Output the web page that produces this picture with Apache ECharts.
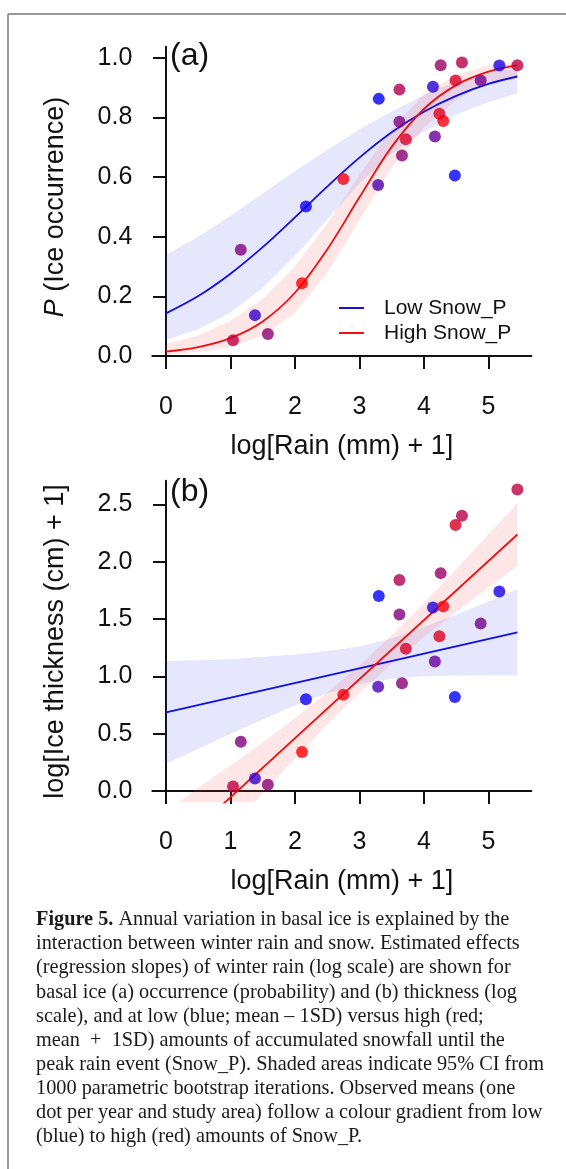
<!DOCTYPE html>
<html>
<head>
<meta charset="utf-8">
<script src="https://cdn.jsdelivr.net/npm/echarts@6/dist/echarts.min.js"></script>
<style>
html,body{margin:0;padding:0;background:#fff;}
#chart{width:566px;height:1169px;}
</style>
</head>
<body>
<div id="chart"></div>
<script>
// ---- data ----
const xTicks = [0, 1, 2, 3, 4, 5];
const yTicksA = [0, 0.2, 0.4, 0.6, 0.8, 1.0];
const yTicksB = [0, 0.5, 1.0, 1.5, 2.0, 2.5];

// observed means: log[Rain+1], P(ice), log[thickness+1], relative Snow_P (0 = low/blue, 1 = high/red)
const xRain    = [1.04, 1.16, 1.38, 1.58, 2.11, 2.17, 2.75, 3.29, 3.30, 3.62, 3.62, 3.66, 3.72, 4.14, 4.17, 4.24, 4.26, 4.30, 4.48, 4.49, 4.59, 4.88, 5.17, 5.45];
const pIce     = [0.053, 0.356, 0.137, 0.074, 0.244, 0.501, 0.593, 0.573, 0.862, 0.893, 0.785, 0.672, 0.727, 0.903, 0.736, 0.812, 0.975, 0.788, 0.605, 0.924, 0.984, 0.924, 0.974, 0.975];
const logThick = [0.04, 0.43, 0.11, 0.055, 0.34, 0.80, 0.84, 0.91, 1.70, 1.84, 1.54, 0.94, 1.24, 1.60, 1.13, 1.35, 1.90, 1.61, 0.82, 2.32, 2.40, 1.46, 1.74, 2.63];
const snowP    = [0.75, 0.5, 0.2, 0.55, 1.0, 0.05, 0.95, 0.3, 0.0, 0.7, 0.5, 0.55, 0.85, 0.15, 0.4, 0.88, 0.6, 0.97, 0.02, 0.85, 0.72, 0.45, 0.1, 0.75];

// fitted curves and 95% CI, sampled from the figure
const curveX     = [0, 0.5, 1, 1.5, 2, 2.5, 3, 3.5, 4, 4.5, 5, 5.45];
const lowSnowP   = [0.143, 0.201, 0.276, 0.365, 0.465, 0.568, 0.665, 0.750, 0.819, 0.872, 0.912, 0.937];
const lowSnowLo  = [0.054, 0.090, 0.146, 0.228, 0.335, 0.458, 0.578, 0.678, 0.753, 0.809, 0.851, 0.881];
const lowSnowHi  = [0.339, 0.400, 0.470, 0.545, 0.620, 0.690, 0.760, 0.820, 0.875, 0.920, 0.950, 0.966];
const highSnowP  = [0.015, 0.030, 0.060, 0.116, 0.212, 0.357, 0.532, 0.701, 0.828, 0.908, 0.953, 0.975];
const highSnowLo = [0.004, 0.013, 0.030, 0.068, 0.144, 0.278, 0.456, 0.631, 0.766, 0.858, 0.916, 0.935];
const highSnowHi = [0.040, 0.069, 0.117, 0.192, 0.301, 0.444, 0.607, 0.762, 0.876, 0.942, 0.974, 0.985];

const lineX        = [0, 5.45];
const lowThickFit  = [0.686, 1.384];
const highThickFit = [-0.57, 2.237];
const lowThickLo   = [0.237, 0.369, 0.498, 0.624, 0.745, 0.852, 0.934, 0.980, 1.000, 1.008, 1.010, 1.010];
const lowThickHi   = [1.133, 1.140, 1.150, 1.170, 1.190, 1.220, 1.260, 1.330, 1.430, 1.540, 1.650, 1.760];
const highThickLo  = [-0.961, -0.654, -0.332, -0.019, 0.283, 0.577, 0.855, 1.110, 1.343, 1.562, 1.774, 1.962];
const highThickHi  = [-0.179, 0.029, 0.222, 0.424, 0.637, 0.858, 1.095, 1.355, 1.637, 1.933, 2.236, 2.512];

const captionLines = [
  'Annual variation in basal ice is explained by the',
  'interaction between winter rain and snow. Estimated effects',
  '(regression slopes) of winter rain (log scale) are shown for',
  'basal ice (a) occurrence (probability) and (b) thickness (log',
  'scale), and at low (blue; mean \u2013 1SD) versus high (red;',
  'mean  +  1SD) amounts of accumulated snowfall until the',
  'peak rain event (Snow_P). Shaded areas indicate 95% CI from',
  '1000 parametric bootstrap iterations. Observed means (one',
  'dot per year and study area) follow a colour gradient from low',
  '(blue) to high (red) amounts of Snow_P.'
];

// ---- chart ----
const SANS = 'Liberation Sans, Arial, sans-serif';
const SERIF = 'Liberation Serif, Times New Roman, serif';
const BLUE = '#1010e0';
const RED = '#ee1010';
const INK = '#111';

function zip(xs, ys) { return xs.map((x, i) => [x, ys[i]]); }

function band(gi, lo, hi, fill) {
  return {
    type: 'custom', xAxisIndex: gi, yAxisIndex: gi, clip: true, silent: true, z: 1,
    data: [[0, 0]],
    renderItem: function (params, api) {
      const pts = [];
      for (let i = 0; i < curveX.length; i++) pts.push(api.coord([curveX[i], hi[i]]));
      for (let i = curveX.length - 1; i >= 0; i--) pts.push(api.coord([curveX[i], lo[i]]));
      return { type: 'polygon', shape: { points: pts }, style: { fill: fill } };
    }
  };
}

function line(gi, name, data, color) {
  return {
    type: 'line', name: name, xAxisIndex: gi, yAxisIndex: gi, data: data,
    symbol: 'none', smooth: 0.35, clip: true, silent: true, z: 3,
    color: color, lineStyle: { color: color, width: 1.8 }
  };
}

function scatter(gi, ys) {
  return {
    type: 'scatter', xAxisIndex: gi, yAxisIndex: gi, z: 5, silent: true,
    symbolSize: 12,
    data: xRain.map((x, i) => [x, ys[i], snowP[i]])
  };
}

function xAxis(gi) {
  return {
    type: 'value', gridIndex: gi, min: -0.2125, max: 5.667,
    axisLine: { lineStyle: { color: INK, width: 2 } },
    axisTick: { customValues: xTicks, length: 13, lineStyle: { color: INK, width: 2 } },
    axisLabel: { customValues: xTicks, fontSize: 25, color: INK, fontFamily: SANS, margin: 27 },
    splitLine: { show: false },
    name: 'log[Rain (mm) + 1]', nameLocation: 'middle', nameGap: 66,
    nameTextStyle: { fontSize: 27, color: INK, fontFamily: SANS }
  };
}

function yAxis(gi, min, max, ticks, name) {
  return {
    type: 'value', gridIndex: gi, min: min, max: max,
    axisLine: { show: true, lineStyle: { color: INK, width: 2 } },
    axisTick: { show: true, customValues: ticks, length: 13, lineStyle: { color: INK, width: 2 } },
    axisLabel: { customValues: ticks, fontSize: 25, color: INK, fontFamily: SANS, margin: 20,
                 formatter: v => v.toFixed(1) },
    splitLine: { show: false },
    name: name, nameLocation: 'middle', nameGap: 83, nameRotate: 90,
    nameTextStyle: { fontSize: 27, color: INK, fontFamily: SANS,
                     rich: { i: { fontSize: 27, fontStyle: 'italic', fontFamily: SANS, color: INK } } }
  };
}

const graphics = [
  { type: 'line', shape: { x1: 8, y1: 14, x2: 566, y2: 14 }, style: { stroke: '#999', lineWidth: 2 } },
  { type: 'line', shape: { x1: 8, y1: 14, x2: 8, y2: 1169 }, style: { stroke: '#999', lineWidth: 2 } },
  { type: 'text', x: 170, y: 56, style: { text: '(a)', font: '32px ' + SANS, fill: INK, verticalAlign: 'middle' } },
  { type: 'text', x: 170, y: 492, style: { text: '(b)', font: '32px ' + SANS, fill: INK, verticalAlign: 'middle' } }
];
captionLines.forEach((t, i) => {
  graphics.push({
    type: 'text', x: 36, y: 920 + 24.07 * i,
    style: {
      text: i === 0 ? '{b|Figure 5.} ' + t : t,
      font: '20.3px ' + SERIF, fill: '#1a1a1a', verticalAlign: 'middle',
      rich: { b: { fontWeight: 'bold', fontSize: 20.3, fontFamily: SERIF, fill: '#1a1a1a' } }
    }
  });
});

const option = {
  animation: false,
  grid: [
    { left: 152.3, top: 46.7, width: 379.1, height: 320.6 },
    { left: 152.3, top: 480.7, width: 379.1, height: 321.6 }
  ],
  xAxis: [xAxis(0), xAxis(1)],
  yAxis: [
    yAxis(0, -0.0379, 1.0369, yTicksA, '{i|P} (Ice occurrence)'),
    yAxis(1, -0.0985, 2.706, yTicksB, 'log[Ice thickness (cm) + 1]')
  ],
  legend: {
    data: ['Low Snow_P', 'High Snow_P'], orient: 'vertical', left: 339, top: 297.5, padding: 0,
    icon: 'rect', itemWidth: 25, itemHeight: 2, itemGap: 4,
    textStyle: { fontSize: 21, color: INK, fontFamily: SANS, padding: [0, 0, 0, 15] }
  },
  visualMap: {
    show: false, type: 'continuous', min: 0, max: 1, dimension: 2, seriesIndex: [8, 9],
    inRange: { color: ['#0000ff', '#ff0000'] }
  },
  series: [
    band(0, lowSnowLo, lowSnowHi, 'rgba(60,60,240,0.13)'),
    band(0, highSnowLo, highSnowHi, 'rgba(245,60,60,0.13)'),
    band(1, lowThickLo, lowThickHi, 'rgba(60,60,240,0.13)'),
    band(1, highThickLo, highThickHi, 'rgba(245,60,60,0.13)'),
    line(0, 'Low Snow_P', zip(curveX, lowSnowP), BLUE),
    line(0, 'High Snow_P', zip(curveX, highSnowP), RED),
    line(1, 'Low Snow_P', zip(lineX, lowThickFit), BLUE),
    line(1, 'High Snow_P', zip(lineX, highThickFit), RED),
    scatter(0, pIce),
    scatter(1, logThick)
  ],
  graphic: graphics
};

const chart = echarts.init(document.getElementById('chart'), null, { renderer: 'canvas' });
chart.setOption(option);
</script>
</body>
</html>
